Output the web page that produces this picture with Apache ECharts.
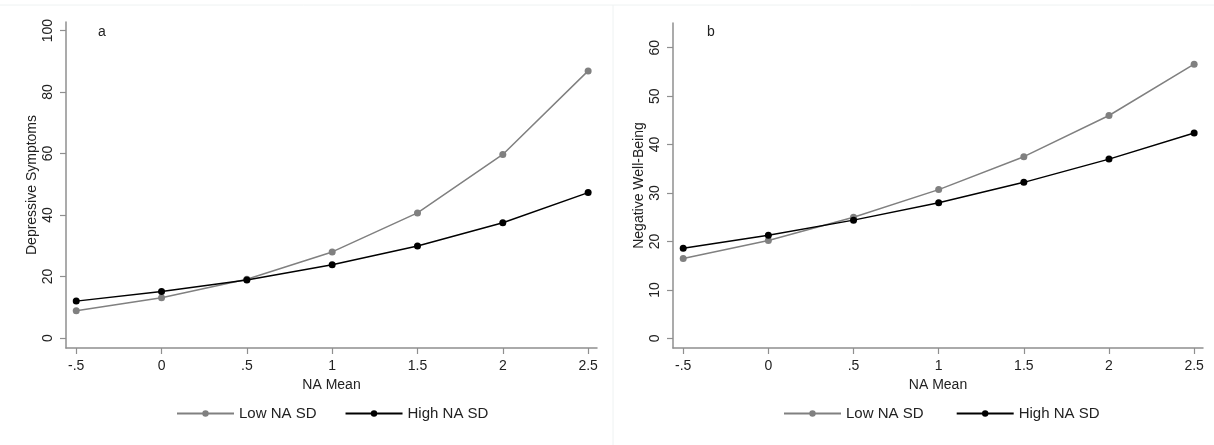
<!DOCTYPE html>
<html><head><meta charset="utf-8">
<script src="https://cdn.jsdelivr.net/npm/echarts@6/dist/echarts.min.js"></script>
<style>html,body{margin:0;padding:0;background:#fff}#c{width:1214px;height:445px}</style>
</head><body><div id="c"></div>
<script>
const naMean = [-0.5, 0, 0.5, 1, 1.5, 2, 2.5];
const xTickValues = [-0.5, 0, 0.5, 1, 1.5, 2, 2.5];
const xTickLabels = ['-.5', '0', '.5', '1', '1.5', '2', '2.5'];
const seriesNames = ['Low NA SD', 'High NA SD'];

// Panel a: Depressive Symptoms
const aLow  = [8.9, 13.1, 19.1, 28.0, 40.7, 59.7, 86.9];
const aHigh = [12.0, 15.1, 18.9, 23.8, 29.9, 37.5, 47.3];
const aYTicks = [0, 20, 40, 60, 80, 100];

// Panel b: Negative Well-Being
const bLow  = [16.5, 20.2, 25.0, 30.7, 37.5, 46.0, 56.6];
const bHigh = [18.6, 21.3, 24.4, 28.0, 32.2, 37.0, 42.4];
const bYTicks = [0, 10, 20, 30, 40, 50, 60];

const FONT = 'Liberation Sans, Arial, sans-serif';
const TXT = '#222';
const AX = '#8f8f8f';
const GREY = '#808080';

function xAxis(gi) {
  return {
    type: 'value', gridIndex: gi, min: -0.56, max: 2.552,
    name: 'NA Mean', nameLocation: 'middle', nameGap: 23,
    nameTextStyle: {fontFamily: FONT, fontSize: 14, color: TXT},
    axisLine: {show: true, onZero: false, lineStyle: {color: AX, width: 1.5}},
    axisTick: {show: true, length: 6, customValues: xTickValues, lineStyle: {color: AX, width: 1.2}},
    axisLabel: {customValues: xTickValues, margin: 11, fontFamily: FONT, fontSize: 14, color: TXT,
      formatter: v => xTickLabels[xTickValues.findIndex(t => Math.abs(t - v) < 1e-9)]},
    splitLine: {show: false}
  };
}
function yAxis(gi, name, min, max, ticks) {
  return {
    type: 'value', gridIndex: gi, min: min, max: max,
    name: name, nameLocation: 'middle', nameGap: 27, nameRotate: 90,
    nameTextStyle: {fontFamily: FONT, fontSize: 14, color: TXT},
    axisLine: {show: true, onZero: false, lineStyle: {color: AX, width: 1.5}},
    axisTick: {show: true, length: 6, customValues: ticks, lineStyle: {color: AX, width: 1.2}},
    axisLabel: {customValues: ticks, rotate: 90, margin: 11, fontFamily: FONT, fontSize: 14, color: TXT},
    splitLine: {show: false}
  };
}
function line(name, gi, ys, color, z) {
  return {
    type: 'line', name: name, xAxisIndex: gi, yAxisIndex: gi, z: z,
    data: naMean.map((x, i) => [x, ys[i]]),
    symbol: 'circle', symbolSize: 7, showSymbol: true,
    lineStyle: {color: color, width: 1.5}, itemStyle: {color: color},
    emphasis: {disabled: true}, animation: false
  };
}

const legendCommon = {top: 401, itemWidth: 57, itemHeight: 8, itemGap: 28, selectedMode: false,
  textStyle: {fontFamily: FONT, fontSize: 15, color: TXT}};

const chart = echarts.init(document.getElementById('c'), null, {renderer: 'canvas'});
chart.setOption({
  backgroundColor: '#fff',
  animation: false,
  graphic: [
    {type: 'line', shape: {x1: 0, y1: 5, x2: 1214, y2: 5}, style: {stroke: '#eef2f2', lineWidth: 1}, silent: true},
    {type: 'line', shape: {x1: 613, y1: 5, x2: 613, y2: 445}, style: {stroke: '#eef2f2', lineWidth: 1}, silent: true}
  ],
  title: [
    {text: 'a', left: 93, top: 20, textStyle: {fontFamily: FONT, fontSize: 14, fontWeight: 'normal', color: TXT}},
    {text: 'b', left: 702, top: 20, textStyle: {fontFamily: FONT, fontSize: 14, fontWeight: 'normal', color: TXT}}
  ],
  grid: [
    {left: 66, top: 22, width: 531, height: 326},
    {left: 673, top: 23, width: 530, height: 325}
  ],
  xAxis: [xAxis(0), xAxis(1)],
  yAxis: [
    yAxis(0, 'Depressive Symptoms', -3.25, 102.8, aYTicks),
    yAxis(1, 'Negative Well-Being', -2.0, 65.1, bYTicks)
  ],
  legend: [
    Object.assign({left: 171, data: [seriesNames[0], seriesNames[1]]}, legendCommon),
    Object.assign({left: 778, data: [seriesNames[0] + ' ', seriesNames[1] + ' ']}, legendCommon)
  ],
  series: [
    line(seriesNames[0], 0, aLow, GREY, 2),
    line(seriesNames[1], 0, aHigh, '#000', 3),
    line(seriesNames[0] + ' ', 1, bLow, GREY, 2),
    line(seriesNames[1] + ' ', 1, bHigh, '#000', 3)
  ]
});
</script></body></html>
